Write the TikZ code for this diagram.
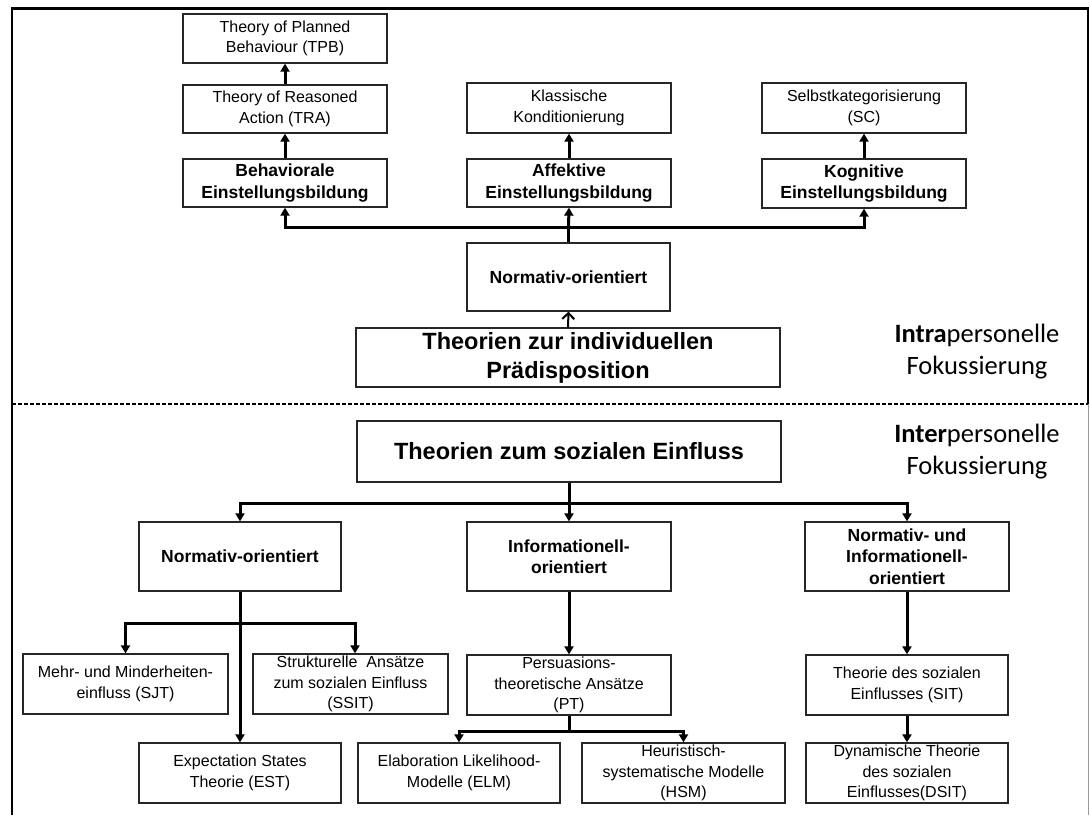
\documentclass[tikz,border=0pt]{standalone}
\usepackage{fontspec}
\setmainfont{Liberation Sans}
\newfontfamily\sidefont{Carlito}
\usetikzlibrary{arrows.meta}
\begin{document}
\begin{tikzpicture}[x=1pt,y=-1pt,
  box/.style={draw=black!85, line width=1.3pt, inner sep=0pt, align=center,
    minimum width=204pt, minimum height=60pt, font=\fontsize{16}{20.5}\selectfont},
  boldbox/.style={box, font=\fontsize{17.5}{21.5}\selectfont\bfseries},
  bigbox/.style={box, minimum width=424pt, font=\fontsize{23.5}{29}\selectfont\bfseries},
  sidelabel/.style={align=center, inner sep=0pt, font=\sidefont\fontsize{26.5}{32}\selectfont},
  conn/.style={line width=3pt, -{Triangle[length=8pt,width=9pt]}},
  plain/.style={line width=3pt},
  openarrow/.style={line width=2pt, -{Straight Barb[length=6pt,width=12pt]}}
]
\useasboundingbox (0,0) rectangle (1090,815);

% outer frame and the dashed divider
\draw[line width=2.5pt] (12,815) -- (12,8.7) -- (1088,8.7) -- (1088,404);
\draw[black!40, line width=1pt] (1088,404) -- (1088,815);
\draw[line width=1.2pt, dash pattern=on 4pt off 2pt] (12,404) -- (1088,404);

% ---------- intrapersonal part ----------
\node[box, minimum height=49pt] (tpb) at (285,38.5) {Theory of Planned\\Behaviour (TPB)};
\node[box, minimum height=48pt] (tra) at (285,109) {Theory of Reasoned\\Action (TRA)};
\node[boldbox, minimum height=48pt] (behav) at (285,183) {Behaviorale\\Einstellungsbildung};
\node[box, minimum height=50pt] (klass) at (569,108) {Klassische\\Konditionierung};
\node[boldbox, minimum height=48pt] (affekt) at (569,183) {Affektive\\Einstellungsbildung};
\node[box, minimum height=50pt] (selbst) at (864,108) {Selbstkategorisierung\\(SC)};
\node[boldbox, minimum height=49pt] (kogn) at (864,183.5) {Kognitive\\Einstellungsbildung};
\node[boldbox, minimum width=203pt, minimum height=68pt] (normA) at (568.5,277) {Normativ-orientiert};
\node[bigbox, minimum height=59pt] (indiv) at (568,357.5) {Theorien zur individuellen\\Prädisposition};

\node[sidelabel] (intra) at (977,352) {\textbf{Intra}personelle\\Fokussierung};

\draw[conn] (tra.north) -- (tpb.south);
\draw[conn] (behav.north) -- (tra.south);
\draw[conn] (affekt.north) -- (klass.south);
\draw[conn] (kogn.north) -- (selbst.south);

\coordinate (yTop) at (0,227);
\coordinate (jTop) at (normA.north |- yTop);
\draw[plain] (normA.north) -- (jTop);
\draw[conn] (jTop) -- (affekt.south);
\draw[conn] (jTop) -| (behav.south);
\draw[conn] (jTop) -| (kogn.south);
\draw[openarrow] (indiv.north) -- (normA.south);

% ---------- interpersonal part ----------
\node[bigbox, minimum height=61pt] (sozial) at (569,451.5) {Theorien zum sozialen Einfluss};
\node[sidelabel] (inter) at (977,452) {\textbf{Inter}personelle\\Fokussierung};

\node[boldbox, minimum width=202pt, minimum height=69pt] (normB) at (240,556.5) {Normativ-orientiert};
\node[boldbox, minimum height=69pt] (info) at (569,556.5) {Informationell-\\orientiert};
\node[boldbox, minimum height=69pt] (normInfo) at (907,556.5) {Normativ- und\\Informationell-\\orientiert};

\node[box, minimum width=205pt] (mehr) at (125.5,684) {Mehr- und Minderheiten-\\einfluss (SJT)};
\node[box, minimum width=195pt] (strukt) at (350.5,684) {Strukturelle\ \ Ansätze\\zum sozialen Einfluss\\(SSIT)};
\node[box] (pers) at (569,685) {Persuasions-\\theoretische Ansätze\\(PT)};
\node[box, minimum width=202pt] (sit) at (907,685) {Theorie des sozialen\\Einflusses (SIT)};

\node[box, minimum width=202pt] (est) at (240,773) {Expectation States\\Theorie (EST)};
\node[box, minimum width=202pt] (elm) at (459,773) {Elaboration Likelihood-\\Modelle (ELM)};
\node[box, minimum width=203pt] (hsm) at (683.5,773) {Heuristisch-\\systematische Modelle\\(HSM)};
\node[box, minimum width=202pt] (dsit) at (907,773) {Dynamische Theorie\\des sozialen\\Einflusses(DSIT)};

\coordinate (ySoz) at (0,503);
\coordinate (jSoz) at (sozial.south |- ySoz);
\draw[conn] (sozial.south) -- (info.north);
\draw[conn] (jSoz) -| (normB.north);
\draw[conn] (jSoz) -| (normInfo.north);

\coordinate (yNorm) at (0,623);
\coordinate (jNorm) at (normB.south |- yNorm);
\draw[conn] (normB.south) -- (est.north);
\draw[conn] (jNorm) -| (mehr.north);
\draw[conn] (jNorm) -| ([xshift=4.5pt]strukt.north);

\draw[conn] (info.south) -- (pers.north);
\coordinate (yPers) at (0,731);
\coordinate (jPers) at (pers.south |- yPers);
\draw[plain] (pers.south) -- (jPers);
\draw[conn] (jPers) -| (elm.north);
\draw[conn] (jPers) -| (hsm.north);

\draw[conn] (normInfo.south) -- (sit.north);
\draw[conn] (sit.south) -- (dsit.north);
\end{tikzpicture}
\end{document}
